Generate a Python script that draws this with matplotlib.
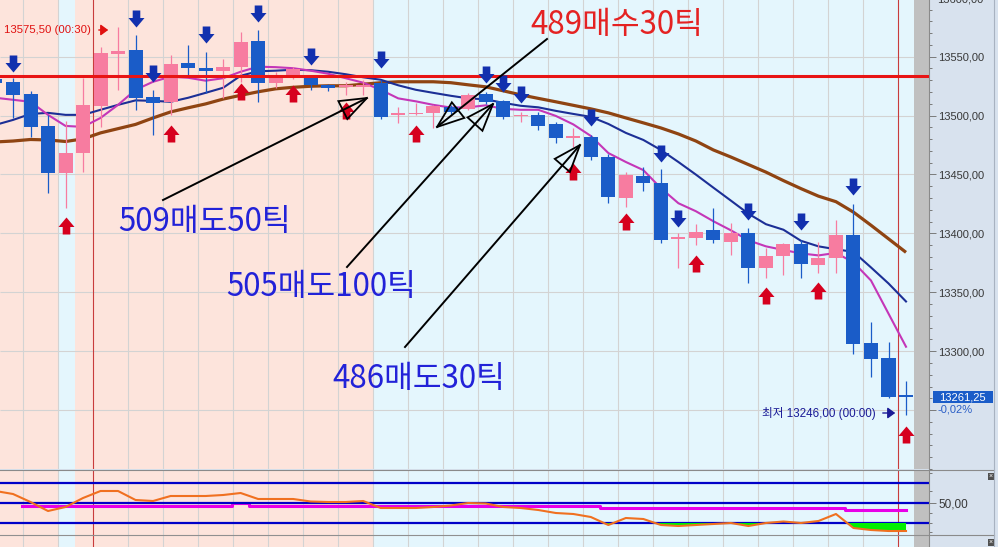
import numpy as np
import matplotlib
matplotlib.use("Agg")
import matplotlib.pyplot as plt
from matplotlib.path import Path
from matplotlib.patches import Rectangle, Polygon, FancyArrowPatch
from matplotlib.lines import Line2D

plt.rcParams['font.family'] = ['Liberation Sans', 'DejaVu Sans']

# ---------------- data ----------------
candle_idx = np.arange(-1, 52)
opens = [13531, 13528.75, 13518.5, 13491, 13451, 13468.25, 13508.5, 13552.5, 13556, 13516,
         13511.75, 13545, 13540.5, 13538, 13541.5, 13563.5, 13528, 13534.75, 13532, 13526,
         13524.5, 13524.25, 13528, 13500.5, 13501.25, 13502.25, 13507.5, 13505.75, 13518.5, 13512.5,
         13499.5, 13500.5, 13493, 13481, 13482, 13464.75, 13430, 13448.5, 13442.75, 13395,
         13395.75, 13402.5, 13392.5, 13400, 13371, 13380.5, 13390.75, 13372.75, 13379.5, 13398.5,
         13307.25, 13294.5, 13263]
highs = [13533, 13532, 13521, 13500.5, 13495, 13532, 13558.5, 13575.5, 13568.75, 13522,
         13551.75, 13560.25, 13554.25, 13548.25, 13571.25, 13573, 13537, 13541, 13534, 13527,
         13528.75, 13530.5, 13530.5, 13507.5, 13510.75, 13509, 13509, 13519.25, 13520, 13513.5,
         13503.25, 13503.25, 13494.5, 13489.5, 13483.5, 13467.5, 13452, 13456.25, 13455, 13400,
         13407.75, 13421.25, 13408.5, 13404.25, 13387.25, 13391.5, 13394.5, 13392.5, 13411.25, 13425,
         13325, 13308, 13275]
lows = [13524, 13498, 13482, 13434, 13421.5, 13452, 13490.5, 13522, 13505, 13483.5,
        13500.5, 13534.75, 13519.25, 13515, 13528.75, 13511.75, 13523.5, 13531, 13522, 13521,
        13517.5, 13517.5, 13497.25, 13494, 13500.5, 13489.5, 13501, 13505, 13510, 13497.25,
        13494.5, 13487.75, 13476.75, 13473.25, 13462, 13425.5, 13422.25, 13436, 13391.5, 13370.25,
        13390, 13391.5, 13381.25, 13357.5, 13361.75, 13364.25, 13361.75, 13366, 13366.75, 13298,
        13278.25, 13260.5, 13246]
closes = [13528, 13517.5, 13490.5, 13451, 13468.25, 13509, 13553.5, 13555, 13515, 13510.75,
          13544, 13540.5, 13538, 13541.5, 13562.75, 13528, 13534.75, 13539.75, 13526, 13523.5,
          13525.25, 13524.5, 13499, 13500.75, 13501.5, 13508.25, 13503.25, 13517.5, 13511.75, 13499,
          13499.75, 13491.25, 13481, 13481.25, 13464.75, 13430.75, 13449.5, 13442.75, 13394, 13396.75,
          13401, 13394, 13400, 13371, 13380.5, 13390.75, 13373.75, 13379.5, 13398.5, 13306.5,
          13293.5, 13261.25, 13261.25]

ma_navy = [13492.1, 13496.3, 13501.4, 13502.3, 13500.6, 13500.6, 13504.9, 13509.1, 13512.9, 13512.5,
           13511.7, 13515.1, 13519.3, 13523.6, 13533.8, 13537.6, 13538.1, 13538.9, 13538.5, 13537.2,
           13535.1, 13532.5, 13530.4, 13525.7, 13521.9, 13519.3, 13516.8, 13514.6, 13513.8, 13510.8,
           13508.3, 13507.0, 13504.0, 13501.4, 13498.9, 13492.9, 13485.3, 13479.3, 13470.8, 13460.6,
           13449.9, 13438.8, 13427.8, 13416.7, 13407.8, 13403.1, 13393.7, 13389.0, 13386.5, 13384.3,
           13371.1, 13357.5, 13342.2]
ma_magenta = [13515.1, 13513.4, 13511.7, 13500.6, 13491.2, 13490.4, 13498.0, 13509.1, 13521.9, 13528.7,
              13533.0, 13532.1, 13529.6, 13531.7, 13537.2, 13541.5, 13541.1, 13540.2, 13538.1, 13535.5,
              13531.7, 13527.9, 13521.9, 13514.6, 13512.1, 13509.1, 13506.8, 13507.0, 13508.7, 13505.7,
              13504.9, 13504.9, 13499.7, 13492.5, 13482.7, 13468.2, 13460.6, 13453.7, 13438.4, 13425.6,
              13418.8, 13410.3, 13402.6, 13394.1, 13389.0, 13385.9, 13383.0, 13381.3, 13383.4, 13375.4,
              13360.0, 13331.9, 13303.8]
ma_brown = [13477.6, 13478.4, 13479.7, 13479.3, 13478.0, 13480.2, 13485.3, 13488.9, 13492.5, 13498.0,
            13503.1, 13506.6, 13509.9, 13514.0, 13517.2, 13520.2, 13522.7, 13524.0, 13524.9, 13525.3,
            13525.3, 13526.6, 13527.9, 13528.7, 13528.7, 13528.7, 13527.9, 13526.1, 13524.4, 13521.0,
            13517.6, 13514.6, 13511.7, 13508.7, 13505.7, 13502.3, 13498.0, 13493.8, 13489.5, 13484.4,
            13478.4, 13470.8, 13464.8, 13458.4, 13452.0, 13444.8, 13438.0, 13431.6, 13426.9, 13418.0,
            13406.9, 13395.4, 13383.9]

resistance_level = 13533.5

sell_idx = [0, 7, 8, 11, 14, 17, 21, 27, 28, 29, 33, 37, 38, 42, 45, 48]
sell_tip = [13537.0, 13575.2, 13528.5, 13561.6, 13579.5, 13543.0, 13540.4, 13527.7, 13520.0,
            13510.7, 13491.2, 13460.6, 13405.5, 13411.4, 13402.9, 13432.6]
buy_idx = [3, 9, 13, 16, 19, 23, 32, 35, 39, 43, 46, 51]
buy_tip = [13413.9, 13492.0, 13527.7, 13526.0, 13511.5, 13492.0, 13459.8, 13417.3, 13381.7,
           13354.5, 13358.8, 13236.6]

osc_main = [62, 59, 51, 42, 46, 55, 62, 62, 53, 52, 57, 57, 57, 58, 60, 54, 54, 54, 51.5, 51, 51, 52,
            45, 45, 45, 46, 47.5, 50, 49.5, 46, 45, 43, 40, 39, 36, 28, 35, 34, 28, 27, 28, 29, 30, 27,
            30, 31.5, 30, 32, 39, 25, 23, 22, 22]
osc_signal = [np.nan, np.nan] + [47.3] * 12 + [49.7] + [47.3] * 20 + [45] * 14 + [43] * 4
osc_levels = [70, 50, 30]

price_ticks = [13250, 13300, 13350, 13400, 13450, 13500, 13550]
hidden_tick_labels = [13250]
osc_ticks = [50]

high_text = "13575,50 (00:30)"
low_text = "최저 13246,00 (00:00)"
last_price_text = "13261,25"
change_text = "-0,02%"

# ---------------- layout ----------------
W, H = 998, 547
fig = plt.figure(figsize=(W / 100, H / 100), dpi=100)
fig.patch.set_facecolor('#d8e2ee')

X0_PX, STEP_PX = 13.0, 17.51


def px2i(px):
    return (px - X0_PX) / STEP_PX


def F(x, y):
    return (x / W, 1 - y / H)


PLOT_R, STRIP_L, MAIN_B = 929, 914, 469
PINK_BG, BLUE_BG = '#fde4dc', '#e4f6fd'
GRID = '#d3d3d3'
UPC, DNC = '#f77ca0', '#1a5cc8'
TICKFONT = ['Liberation Sans', 'DejaVu Sans']
TICKSIZE = 8.0

ax = fig.add_axes([0, 1 - MAIN_B / H, PLOT_R / W, MAIN_B / H])
ax2 = fig.add_axes([0, 0, PLOT_R / W, (H - MAIN_B - 1) / H])

xl = (px2i(0), px2i(PLOT_R))
for a in (ax, ax2):
    a.set_xlim(*xl)
    a.set_facecolor(BLUE_BG)
    for l, r in [(0, 58), (75, 373)]:
        a.axvspan(px2i(l), px2i(r), color=PINK_BG, lw=0, zorder=0.2)
    for k in range(26):
        p = 23 + 35 * k
        if p in (93, 898):
            a.axvline(px2i(p), color='#c83c3c', lw=0.8, zorder=1.0)
        else:
            a.axvline(px2i(p), color=GRID, lw=0.8, zorder=0.6)
    a.axvspan(px2i(STRIP_L), px2i(PLOT_R), color='#c0c0c0', lw=0, zorder=0.7)
    a.set_xticks([])
    for s in ['top', 'left', 'bottom']:
        a.spines[s].set_visible(False)
    a.spines['right'].set_color('#8a8a8a')
    a.spines['right'].set_linewidth(0.8)
    a.yaxis.tick_right()

# ---------------- main panel ----------------
ax.set_ylim(13200, 13598.1)
ax.hlines(np.arange(13250, 13600, 50), px2i(0), px2i(STRIP_L), color=GRID, lw=0.8, zorder=0.6)

ax.plot(candle_idx, ma_brown, color='#8f4412', lw=2.3, zorder=2, solid_capstyle='butt')
ax.plot(candle_idx, ma_navy, color='#1c2f96', lw=1.5, zorder=2.1)
ax.plot(candle_idx, ma_magenta, color='#c436b8', lw=1.5, zorder=2.2)

o = np.array(opens); c = np.array(closes)
cols = np.where(c >= o, UPC, DNC)
ax.vlines(candle_idx, lows, highs, colors=cols, lw=0.9, zorder=3)
body_lo = np.minimum(o, c)
body_h = np.maximum(np.abs(c - o), 1.3)
ax.bar(candle_idx, body_h, bottom=body_lo, width=0.8, color=cols, lw=0, zorder=3.1)

ax.axhline(resistance_level, color='#e81414', lw=2.2, zorder=4)

down_path = Path([(0, 0), (-8, 9.5), (-3.8, 9.5), (-3.8, 17), (3.8, 17), (3.8, 9.5), (8, 9.5), (0, 0)],
                 closed=True)
up_path = Path([(0, 0), (-8, -9.5), (-3.8, -9.5), (-3.8, -17), (3.8, -17), (3.8, -9.5), (8, -9.5), (0, 0)],
               closed=True)
ms = 17 / 100 * 72 * 2
ax.plot(sell_idx, sell_tip, ls='none', marker=down_path, ms=ms, mfc='#1230ae', mew=0, zorder=5)
ax.plot(buy_idx, buy_tip, ls='none', marker=up_path, ms=ms, mfc='#d6001e', mew=0, zorder=5)

fmt = lambda v: f"{v:.2f}".replace('.', ',')
ax.set_yticks(price_ticks)
ax.set_yticklabels(['' if v in hidden_tick_labels else fmt(v) for v in price_ticks], family=TICKFONT)
ax.set_yticks(np.arange(13200, 13600, 10), minor=True)
ax.tick_params(axis='y', which='major', length=5.2, width=0.7, color='#7a7a7a',
               labelcolor='#383838', labelsize=TICKSIZE, pad=1.5)
ax.tick_params(axis='y', which='minor', length=2.4, width=0.7, color='#7a7a7a')
fig.text(*F(937, -1), fmt(13600), family=TICKFONT, fontsize=TICKSIZE, color='#383838', va='center', ha='left')

# ---------------- oscillator panel ----------------
ax2.set_ylim(6, 83)
ax2.plot(candle_idx, osc_signal, color='#e800e8', lw=2.2, drawstyle='steps-mid', zorder=2)
for lv in osc_levels:
    ax2.axhline(lv, color='#0000c8', lw=1.6, zorder=2.5)
om = np.array(osc_main, float)
ax2.fill_between(candle_idx, om, 30, where=om < 30, interpolate=True, color='#00f000', lw=0, zorder=2.6)
ax2.plot(candle_idx, om, color='#f07020', lw=1.5, zorder=3)
ax2.axhline(18, color='#909090', lw=0.8, zorder=3)
ax2.set_yticks(osc_ticks)
ax2.set_yticklabels([fmt(v) for v in osc_ticks], family=TICKFONT)
ax2.set_yticks([80, 62, 40, 30, 21], minor=True)
ax2.tick_params(axis='y', which='major', length=5.2, width=0.7, color='#7a7a7a',
                labelcolor='#383838', labelsize=TICKSIZE + 0.5, pad=1.5)
ax2.tick_params(axis='y', which='minor', length=2.4, width=0.7, color='#7a7a7a')

# panel separators and border
fig.add_artist(Line2D([0, 994 / W], [1 - 469.5 / H] * 2, transform=fig.transFigure, color='#8a8a8a', lw=0.8))
fig.add_artist(Line2D([PLOT_R / W, 994 / W], [1 - 535 / H] * 2, transform=fig.transFigure, color='#8a8a8a', lw=0.8))
fig.add_artist(Line2D([994 / W] * 2, [0, 1], transform=fig.transFigure, color='#a8b2c0', lw=0.8))
for yy in (476, 542):
    fig.add_artist(Rectangle(F(987.5, yy + 3.5), 7 / W, 7 / H, transform=fig.transFigure,
                             facecolor='#505050', lw=0))
    fig.text(*F(991, yy), '×', color='white', fontsize=5, ha='center', va='center')

# ---------------- price labels ----------------
fig.add_artist(Rectangle(F(933, 403), 60 / W, 12 / H, transform=fig.transFigure, facecolor='#1a5cc8', lw=0))
fig.text(*F(962.5, 397.5), last_price_text, color='white', fontsize=TICKSIZE, family=TICKFONT,
         ha='center', va='center')
fig.text(*F(937, 410), change_text, color='#2a5ec6', fontsize=TICKSIZE, family=TICKFONT, ha='left', va='center')

fig.text(*F(4, 30), high_text, color='#e01010', fontsize=8.2, family=TICKFONT, ha='left', va='center')
fig.add_artist(FancyArrowPatch(F(96, 30), F(111, 30), transform=fig.transFigure,
                               arrowstyle='-|>,head_length=0.45,head_width=0.33', mutation_scale=10,
                               color='#e01010', lw=1.0))
fig.text(*F(762, 413), low_text, color='#1a1a96', fontsize=8.4,
         family=['Liberation Sans', 'Noto Sans CJK KR'], ha='left', va='center')
fig.add_artist(FancyArrowPatch(F(880, 413), F(898, 413), transform=fig.transFigure,
                               arrowstyle='-|>,head_length=0.45,head_width=0.33', mutation_scale=10,
                               color='#1a1a96', lw=1.0))

# ---------------- trade annotations ----------------
KFONT = ['Noto Sans CJK KR', 'DejaVu Sans']
annotations = [
    ("509매도50틱", (205, 222), '#2222d8', (163, 200), (367, 98)),
    ("505매도100틱", (321, 287), '#2222d8', (347, 267), (493, 104)),
    ("486매도30틱", (419, 379), '#2222d8', (405, 347), (580, 145)),
    ("489매수30틱", (617, 25), '#e42222', (547, 39), (437, 127)),
]


def open_head(S, T, L=27.0, Wd=20.0):
    S = np.asarray(S, float); T = np.asarray(T, float)
    u = (T - S) / np.linalg.norm(T - S)
    n = np.array([-u[1], u[0]])
    bc = T - L * u
    return [T, bc + Wd / 2 * n, bc - Wd / 2 * n]


for txt, pos, col, S, T in annotations:
    fig.text(*F(*pos), txt, color=col, fontsize=22.5, family=KFONT, fontweight='light',
             ha='center', va='center')
    fig.add_artist(Line2D([S[0] / W, T[0] / W], [1 - S[1] / H, 1 - T[1] / H], transform=fig.transFigure,
                          color='black', lw=1.4, zorder=10))
    tri = [F(*p) for p in open_head(S, T)]
    fig.add_artist(Polygon(tri, closed=True, fill=False, edgecolor='black', lw=1.3,
                           transform=fig.transFigure, zorder=10))

fig.savefig('out.png', dpi=100, facecolor=fig.get_facecolor())
